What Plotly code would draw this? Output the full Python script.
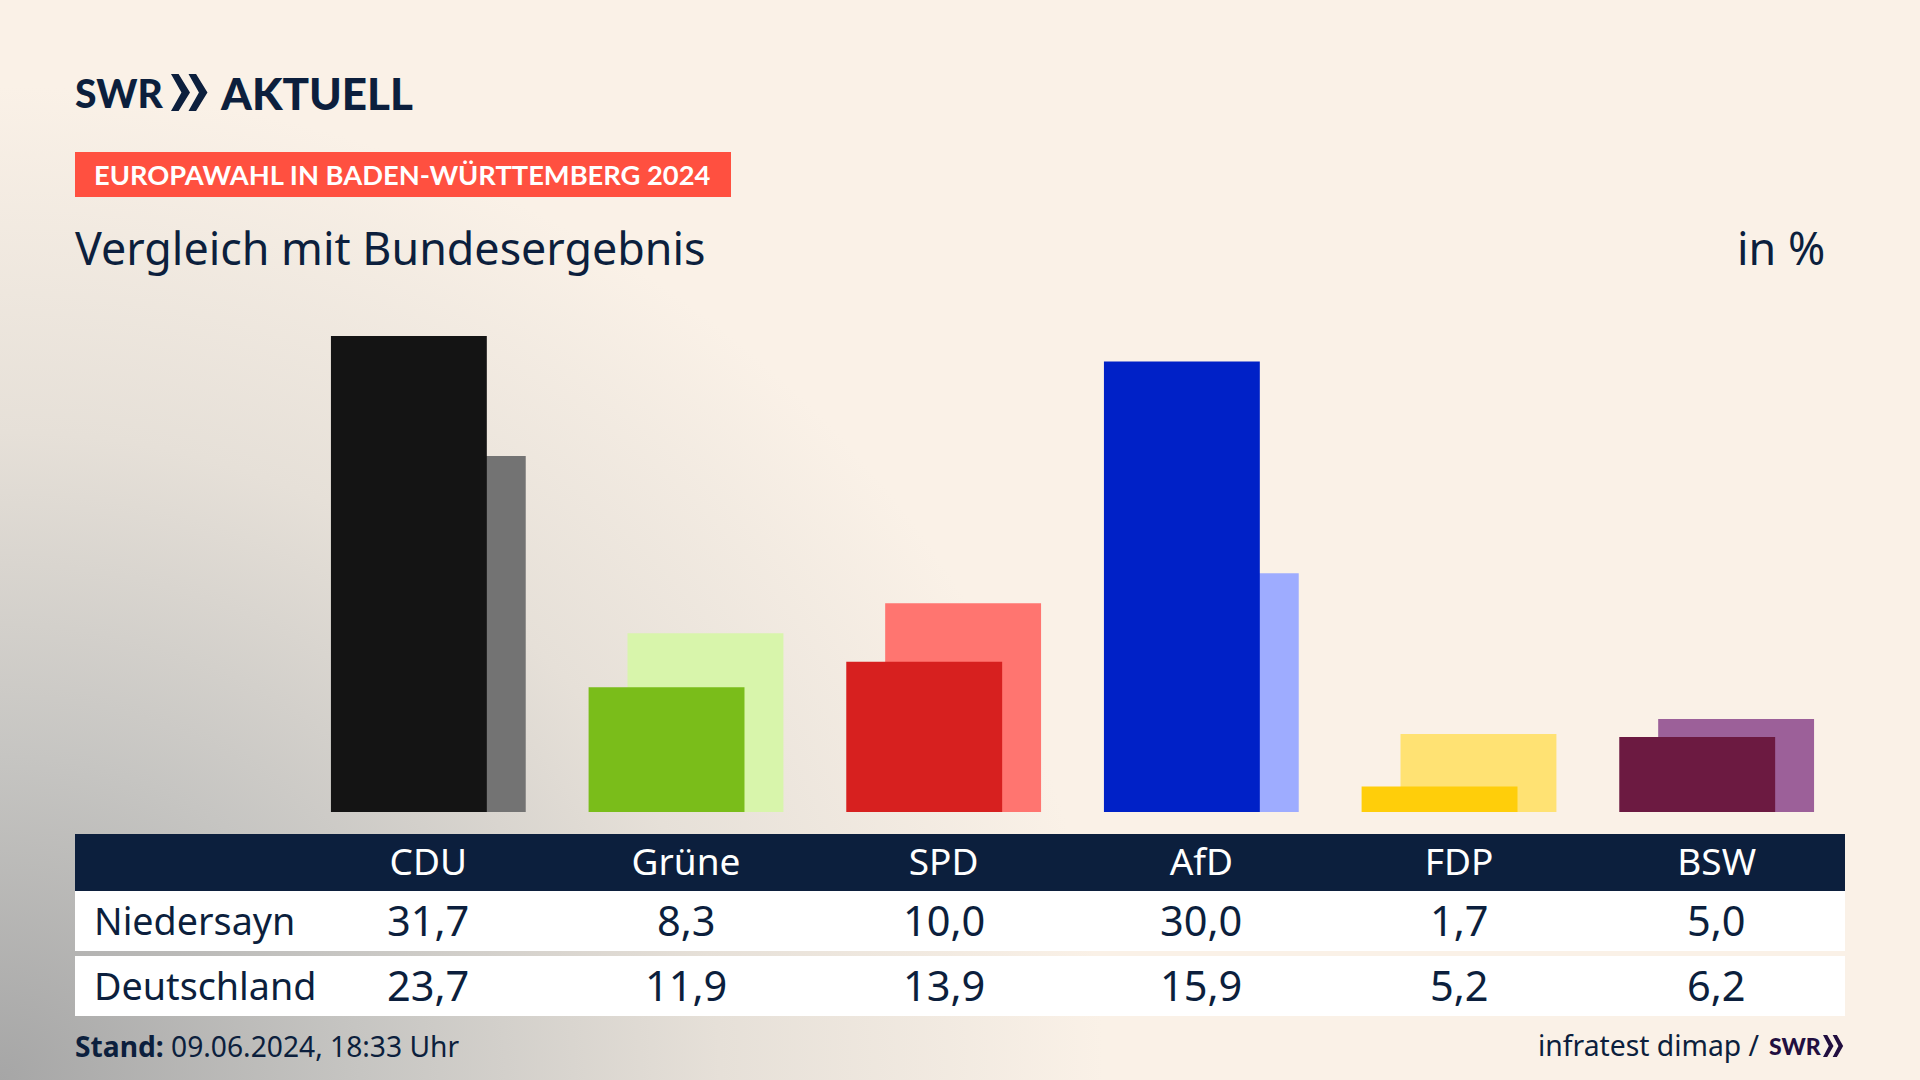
import base64
import plotly.graph_objects as go

# election results, percent
parties = ['CDU', 'Grüne', 'SPD', 'AfD', 'FDP', 'BSW']
niedersayn = [31.7, 8.3, 10.0, 30.0, 1.7, 5.0]
deutschland = [23.7, 11.9, 13.9, 15.9, 5.2, 6.2]
row_names = ['Niedersayn', 'Deutschland']

dark_colors = ['#141414', '#7ABD1A', '#D7201F', '#0021C7', '#FFCE0A', '#6C1A41']
light_colors = ['#737373', '#D8F5AB', '#FF7570', '#9EACFF', '#FFE273', '#9C6099']

NAVY = '#0C1F3D'
FONT = 'Noto Sans'
LOGO_FONT = 'Lato'
W, H = 1920, 1080


def fx(px):
    return px / W


def fy(px):
    return 1 - px / H


def de(v):
    return f'{v:.1f}'.replace('.', ',')


def rect(x0, y0, x1, y1, color):
    return dict(type='rect', xref='paper', yref='paper', x0=fx(x0), x1=fx(x1),
                y0=fy(y0), y1=fy(y1), fillcolor=color, line_width=0, layer='below')


def chevrons(x, y0, y1, w, color):
    # the two arrows of the SWR logo
    shapes = []
    mid = (y0 + y1) / 2
    for off in (0, w * 0.92):
        pts = [(x + off, y0), (x + off + w * 0.4, y0), (x + off + w, mid),
               (x + off + w * 0.4, y1), (x + off, y1), (x + off + w * 0.55, mid)]
        path = 'M ' + ' L '.join(f'{fx(a):.5f},{fy(b):.5f}' for a, b in pts) + ' Z'
        shapes.append(dict(type='path', xref='paper', yref='paper', path=path,
                           fillcolor=color, line_width=0))
    return shapes


def label(text, x, y, size, color=NAVY, anchor='left', xref='paper', family=FONT, weight='normal'):
    return dict(text=text, x=fx(x) if xref == 'paper' else x, y=fy(y), xref=xref, yref='paper',
                xanchor=anchor, yanchor='middle', showarrow=False,
                font=dict(family=family, size=size, color=color, weight=weight))


# page background, grey glow from the lower left corner
svg = f'''<svg xmlns="http://www.w3.org/2000/svg" width="{W}" height="{H}">
<defs><radialGradient id="g" gradientUnits="userSpaceOnUse" cx="0" cy="0" r="1"
gradientTransform="translate(0 {H}) scale(1200 1080)">
<stop offset="0" stop-color="#A6A6A6"/><stop offset="0.3" stop-color="#C6C5C2"/>
<stop offset="0.6" stop-color="#E6E0D8"/><stop offset="0.92" stop-color="#FAF1E7"/>
</radialGradient></defs>
<rect width="{W}" height="{H}" fill="#FAF1E7"/><rect width="{W}" height="{H}" fill="url(#g)"/></svg>'''
bg = 'data:image/svg+xml;base64,' + base64.b64encode(svg.encode()).decode()

fig = go.Figure()
# Deutschland behind, state result in front
fig.add_trace(go.Bar(x=parties, y=deutschland, width=0.605, offset=-0.227,
                     marker=dict(color=light_colors, line_width=0), name='Deutschland'))
fig.add_trace(go.Bar(x=parties, y=niedersayn, width=0.605, offset=-0.378,
                     marker=dict(color=dark_colors, line_width=0), name='Niedersayn'))

shapes = [
    rect(75, 152, 731, 197, '#FF5040'),
    rect(75, 834, 1845, 891, NAVY),
    rect(75, 891, 1845, 951, '#FFFFFF'),
    rect(75, 956, 1845, 1016, '#FFFFFF'),
]
shapes += chevrons(171, 74, 111, 19, NAVY)
shapes += chevrons(1823, 1035, 1057, 10.5, '#220F40')

annotations = [
    label('SWR', 73, 93, 39, family=LOGO_FONT, weight=900),
    label('AKTUELL', 218, 93, 44, family=LOGO_FONT, weight=900),
    label('<b>EUROPAWAHL IN BADEN-WÜRTTEMBERG 2024</b>', 92, 175, 27.3, '#FFFFFF', family='Lato'),
    label('Vergleich mit Bundesergebnis', 73, 247, 44.8),
    label('in %', 1827, 247, 44.8, anchor='right'),
    label('<b>Stand:</b> 09.06.2024, 18:33 Uhr', 73, 1046, 28.2),
    label('infratest dimap /', 1762, 1045, 28.3, anchor='right'),
    label('SWR', 1767, 1046, 23, '#220F40', family=LOGO_FONT, weight=900),
]
for name, values, y in zip(row_names, [niedersayn, deutschland], [920, 985]):
    annotations.append(label(name, 92, y, 37.7))
    for party, v in zip(parties, values):
        annotations.append(label(de(v), party, y, 41.5, anchor='center', xref='x'))

fig.update_layout(
    width=W, height=H, margin=dict(l=0, r=0, t=0, b=0),
    barmode='overlay', showlegend=False, paper_bgcolor='#FAF1E7', plot_bgcolor='rgba(0,0,0,0)',
    font=dict(family=FONT, color=NAVY),
    images=[dict(source=bg, xref='paper', yref='paper', x=0, y=1, sizex=1, sizey=1,
                 xanchor='left', yanchor='top', sizing='stretch', layer='below')],
    shapes=shapes, annotations=annotations,
    xaxis=dict(domain=[fx(299.5), fx(1845.5)], type='category', range=[-0.5, 5.5], showgrid=False,
               showline=False, ticks='', ticklabelstandoff=25,
               tickfont=dict(family=FONT, size=37, color='#FFFFFF')),
    yaxis=dict(domain=[fy(812), fy(302)], range=[0, 33.96], visible=False),
)

fig.write_html("out.html", config={'displayModeBar': False},
               post_script="document.body.style.margin='0';")
